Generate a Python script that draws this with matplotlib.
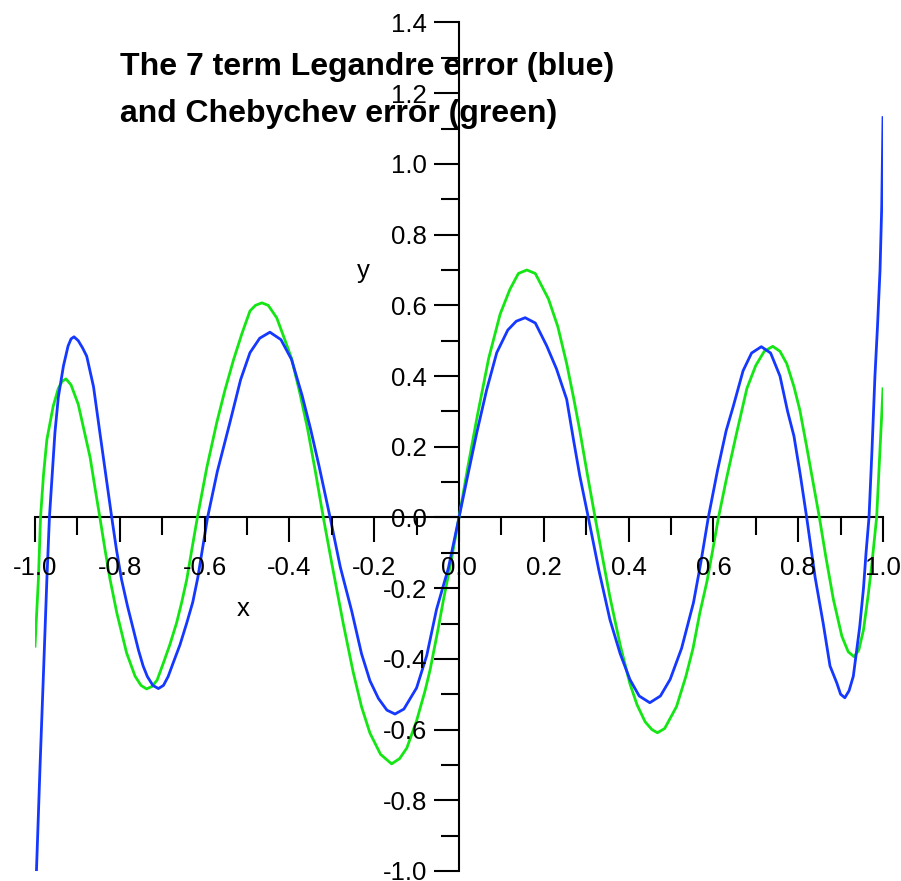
import matplotlib
matplotlib.use("Agg")
import matplotlib.pyplot as plt
from matplotlib.ticker import MultipleLocator, FormatStrFormatter

plt.rcParams['axes.unicode_minus'] = False
plt.rcParams['font.family'] = ['Liberation Sans', 'DejaVu Sans']

# Legendre error (blue)
leg_x = [-1.000, -0.988, -0.980, -0.972, -0.966, -0.953, -0.945, -0.933, -0.922, -0.915,
         -0.908, -0.898, -0.888, -0.878, -0.862, -0.847, -0.833, -0.819,
         -0.808, -0.796, -0.782, -0.768, -0.756, -0.745, -0.735, -0.722, -0.709, -0.697,
         -0.686, -0.674, -0.658, -0.642, -0.628, -0.616, -0.593,
         -0.570, -0.540, -0.515, -0.493, -0.470, -0.446, -0.420, -0.395, -0.370, -0.350,
         -0.330, -0.304,
         -0.280, -0.253, -0.230, -0.210, -0.190, -0.170, -0.151, -0.130, -0.100, -0.076,
         -0.053, -0.025, 0.000,
         0.020, 0.042, 0.065, 0.089, 0.115, 0.135, 0.156, 0.180, 0.207, 0.230,
         0.254, 0.270, 0.285, 0.305,
         0.330, 0.356, 0.380, 0.403, 0.425, 0.450, 0.475, 0.498, 0.525, 0.553,
         0.570, 0.588,
         0.610, 0.630, 0.647, 0.670, 0.690, 0.713, 0.735, 0.757, 0.775, 0.790,
         0.805, 0.820,
         0.840, 0.859, 0.875, 0.891, 0.900, 0.910, 0.920, 0.930, 0.945, 0.954,
         0.960, 0.967, 0.974, 0.981, 0.987, 0.993, 0.997, 1.000]
leg_y = [-1.12, -0.70, -0.44, -0.175, 0.00, 0.24, 0.34, 0.428, 0.485, 0.505,
         0.511, 0.50, 0.48, 0.456, 0.37, 0.24, 0.12, 0.00,
         -0.09, -0.175, -0.25, -0.317, -0.375, -0.42, -0.45, -0.475, -0.484, -0.475,
         -0.45, -0.411, -0.36, -0.298, -0.24, -0.17, 0.00,
         0.13, 0.27, 0.39, 0.466, 0.507, 0.524, 0.503, 0.447, 0.345, 0.25,
         0.145, 0.00,
         -0.14, -0.265, -0.385, -0.462, -0.512, -0.545, -0.556, -0.542, -0.482, -0.39,
         -0.26, -0.143, 0.00,
         0.115, 0.24, 0.36, 0.466, 0.53, 0.555, 0.565, 0.55, 0.485, 0.42,
         0.334, 0.22, 0.117, 0.00,
         -0.15, -0.289, -0.385, -0.458, -0.505, -0.524, -0.505, -0.458, -0.37, -0.241,
         -0.13, 0.00,
         0.135, 0.245, 0.315, 0.415, 0.465, 0.483, 0.465, 0.40, 0.30, 0.23,
         0.12, 0.00,
         -0.17, -0.30, -0.42, -0.468, -0.50, -0.510, -0.49, -0.449, -0.31, -0.20,
         -0.10, 0.00, 0.19, 0.40, 0.54, 0.70, 0.88, 1.131]

# Chebychev error (green)
cheb_x = [-1.000, -0.992, -0.987, -0.980, -0.972, -0.957, -0.945, -0.936, -0.927, -0.915,
          -0.898, -0.884, -0.870, -0.858, -0.847,
          -0.835, -0.823, -0.807, -0.784, -0.764, -0.750, -0.737, -0.724, -0.712, -0.697,
          -0.682, -0.666, -0.654, -0.642, -0.630, -0.617,
          -0.595, -0.571, -0.552, -0.532, -0.512, -0.493, -0.480, -0.465, -0.450, -0.430,
          -0.413, -0.395, -0.375, -0.357, -0.338, -0.320,
          -0.300, -0.273, -0.250, -0.230, -0.210, -0.185, -0.159, -0.140, -0.123, -0.100,
          -0.080, -0.068, -0.050, -0.037, -0.018, 0.000,
          0.020, 0.042, 0.070, 0.097, 0.120, 0.140, 0.160, 0.180, 0.211, 0.233,
          0.254, 0.270, 0.285, 0.303, 0.321,
          0.338, 0.356, 0.380, 0.403, 0.420, 0.439, 0.455, 0.468, 0.485, 0.513,
          0.535, 0.552, 0.568, 0.585, 0.598, 0.612,
          0.630, 0.655, 0.679, 0.700, 0.720, 0.740, 0.757, 0.773, 0.790, 0.804,
          0.820, 0.835, 0.850,
          0.865, 0.883, 0.903, 0.918, 0.932, 0.943, 0.954, 0.965, 0.973, 0.979,
          0.985, 1.000]
cheb_y = [-0.364, -0.175, 0.00, 0.12, 0.22, 0.315, 0.365, 0.385, 0.392, 0.375,
          0.32, 0.245, 0.17, 0.08, 0.00,
          -0.09, -0.175, -0.27, -0.383, -0.449, -0.475, -0.485, -0.478, -0.46, -0.411,
          -0.36, -0.298, -0.24, -0.175, -0.09, 0.00,
          0.14, 0.27, 0.36, 0.445, 0.52, 0.584, 0.60, 0.607, 0.60, 0.565,
          0.51, 0.45, 0.35, 0.25, 0.125, 0.00,
          -0.13, -0.30, -0.435, -0.535, -0.61, -0.67, -0.697, -0.682, -0.652, -0.575,
          -0.49, -0.43, -0.32, -0.235, -0.12, 0.00,
          0.137, 0.28, 0.45, 0.575, 0.645, 0.69, 0.700, 0.69, 0.618, 0.54,
          0.435, 0.34, 0.245, 0.12, 0.00,
          -0.11, -0.225, -0.36, -0.47, -0.53, -0.578, -0.60, -0.609, -0.597, -0.535,
          -0.45, -0.37, -0.27, -0.18, -0.095, 0.00,
          0.105, 0.24, 0.365, 0.43, 0.47, 0.484, 0.47, 0.435, 0.37, 0.303,
          0.20, 0.10, 0.00,
          -0.11, -0.232, -0.336, -0.38, -0.394, -0.375, -0.318, -0.22, -0.14, -0.07,
          0.00, 0.364]

title_lines = ["The 7 term Legandre error (blue)", "and Chebychev error (green)"]

W, H = 901, 881
fig = plt.figure(figsize=(W / 100, H / 100), dpi=100)
ax = fig.add_axes([35 / W, (H - 871) / H, (883 - 35) / W, (871 - 22.5) / H])
ax.set_xlim(-1.0, 1.0)
ax.set_ylim(-1.0, 1.4)

ax.plot(cheb_x, cheb_y, color='#14e614', lw=2.0, zorder=3, solid_joinstyle='round')
ax.plot(leg_x, leg_y, color='#1438ff', lw=2.0, zorder=4, solid_joinstyle='round')

for s in ['top', 'right']:
    ax.spines[s].set_visible(False)
ax.spines['left'].set_position(('data', 0))
ax.spines['bottom'].set_position(('data', 0))
ax.spines['left'].set_linewidth(1.5)
ax.spines['bottom'].set_linewidth(1.5)

ax.xaxis.set_major_locator(MultipleLocator(0.2))
ax.xaxis.set_minor_locator(MultipleLocator(0.1))
ax.yaxis.set_major_locator(MultipleLocator(0.2))
ax.yaxis.set_minor_locator(MultipleLocator(0.1))
ax.xaxis.set_major_formatter(FormatStrFormatter('%.1f'))
ax.yaxis.set_major_formatter(FormatStrFormatter('%.1f'))

ax.tick_params(axis='both', which='major', direction='out', length=18, width=1.5,
               labelsize=18.5, colors='black')
ax.tick_params(axis='both', which='minor', direction='out', length=13, width=1.5)
ax.tick_params(axis='x', which='major', pad=10)
ax.tick_params(axis='y', which='major', pad=5)
ax.xaxis.set_zorder(5)
ax.yaxis.set_zorder(5)

ax.text(-0.509, -0.26, 'x', fontsize=18.5, ha='center', va='center')
ax.text(-0.226, 0.696, 'y', fontsize=18.5, ha='center', va='center')

ax.text(-0.80, 1.273, title_lines[0], fontsize=23, fontweight='bold', ha='left', va='center', zorder=1)
ax.text(-0.80, 1.140, title_lines[1], fontsize=23, fontweight='bold', ha='left', va='center', zorder=1)

fig.savefig('out.png', dpi=100)
